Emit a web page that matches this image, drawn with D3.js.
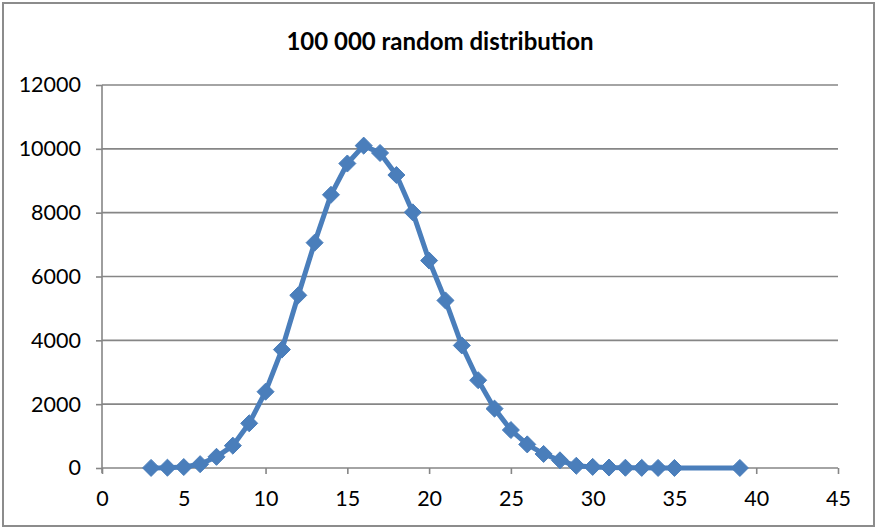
<!DOCTYPE html>
<html>
<head>
<meta charset="utf-8">
<script src="https://cdn.jsdelivr.net/npm/d3@7"></script>
<style>
  html, body { margin: 0; padding: 0; background: #fff; }
  svg { display: block; }
  text { font-family: Lato, "Open Sans", sans-serif; fill: #000; }
</style>
</head>
<body>
<svg id="chart" width="878" height="529"></svg>
<script>
// Bin values (outcome) and how often each occurred in 100 000 draws
const bins = [3, 4, 5, 6, 7, 8, 9, 10, 11, 12, 13, 14, 15, 16, 17, 18, 19, 20,
              21, 22, 23, 24, 25, 26, 27, 28, 29, 30, 31, 32, 33, 34, 35, 39];
const counts = [3, 10, 30, 120, 350, 700, 1400, 2390, 3710, 5410, 7060, 8560, 9540, 10100,
                9870, 9180, 8010, 6500, 5250, 3840, 2750, 1860, 1190, 740, 440, 240,
                70, 35, 15, 8, 4, 2, 1, 1];
const xTicks = [0, 5, 10, 15, 20, 25, 30, 35, 40, 45];
const yTicks = [0, 2000, 4000, 6000, 8000, 10000, 12000];
const title = "100 000 random distribution";

const W = 878, H = 529;
const plot = { left: 102, right: 838, top: 85, bottom: 468 };
const gridColor = "#868686";
const seriesColor = "#4a7ebb";
const labelFont = "Lato, 'Open Sans', sans-serif";

const svg = d3.select("#chart");

// Chart frame
svg.append("rect")
  .attr("x", 3).attr("y", 3)
  .attr("width", W - 7).attr("height", H - 6)
  .attr("fill", "#fff")
  .attr("stroke", "#8c8c8c")
  .attr("stroke-width", 2);

const x = d3.scaleLinear().domain([0, 45]).range([plot.left, plot.right]);
const y = d3.scaleLinear().domain([0, 12000]).range([plot.bottom, plot.top]);

// Horizontal gridlines
svg.append("g")
  .selectAll("line")
  .data(yTicks.filter(d => d > 0))
  .join("line")
  .attr("x1", plot.left).attr("x2", plot.right)
  .attr("y1", d => y(d)).attr("y2", d => y(d))
  .attr("stroke", gridColor)
  .attr("stroke-width", 1.6);

// Y axis
const yAxis = svg.append("g")
  .attr("transform", `translate(${plot.left},0)`)
  .call(d3.axisLeft(y).tickValues(yTicks).tickFormat(d3.format("d")).tickSize(6).tickPadding(15));
yAxis.select(".domain").attr("stroke", gridColor).attr("stroke-width", 1.6)
  .attr("d", `M0,${plot.top}V${plot.bottom + 5}`);
yAxis.selectAll(".tick line").attr("stroke", gridColor).attr("stroke-width", 1.6);
yAxis.selectAll(".tick text")
  .style("font-family", labelFont)
  .style("font-size", "21.5px")
  .attr("fill", "#262626");

// X axis
const xAxis = svg.append("g")
  .attr("transform", `translate(0,${plot.bottom})`)
  .call(d3.axisBottom(x).tickValues(xTicks).tickSize(6).tickPadding(17));
xAxis.select(".domain").attr("stroke", gridColor).attr("stroke-width", 1.6)
  .attr("d", `M${plot.left},0H${plot.right}`);
xAxis.selectAll(".tick line").attr("stroke", gridColor).attr("stroke-width", 1.6);
xAxis.selectAll(".tick text")
  .style("font-family", labelFont)
  .style("font-size", "21.5px")
  .attr("fill", "#262626");

// Title
svg.append("text")
  .attr("x", 440).attr("y", 50)
  .attr("text-anchor", "middle")
  .style("font-family", labelFont)
  .style("font-size", "24px")
  .style("font-weight", "bold")
  .text(title);

// Series line
const pts = bins.map((b, i) => ({ b, c: counts[i] }));
const line = d3.line().x(d => x(d.b)).y(d => y(d.c));
svg.append("path")
  .datum(pts)
  .attr("d", line)
  .attr("fill", "none")
  .attr("stroke", seriesColor)
  .attr("stroke-width", 5)
  .attr("stroke-linejoin", "round");

// Diamond markers
const diamond = d3.symbol().type(d3.symbolDiamond2).size(185);
svg.append("g")
  .selectAll("path")
  .data(pts)
  .join("path")
  .attr("transform", d => `translate(${x(d.b)},${y(d.c)})`)
  .attr("d", diamond)
  .attr("fill", seriesColor)
  .attr("stroke", seriesColor)
  .attr("stroke-width", 1);
</script>
</body>
</html>
